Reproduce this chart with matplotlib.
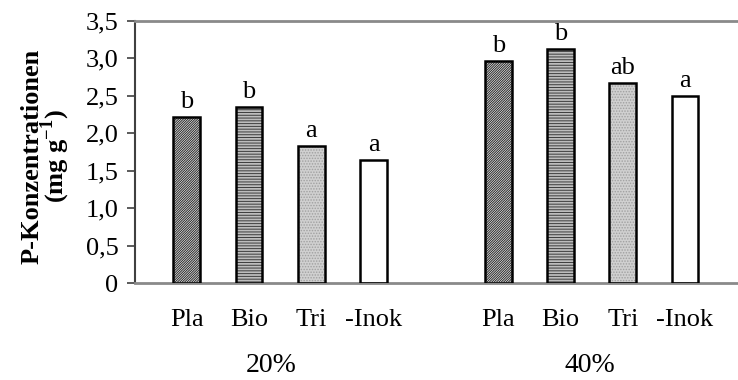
import matplotlib
matplotlib.use("Agg")
import matplotlib.pyplot as plt

# Data: P concentration by inoculation treatment at two substrate levels
levels = ["20%", "40%"]
treatments = ["Pla", "Bio", "Tri", "-Inok"]
p_20 = [2.22, 2.35, 1.83, 1.64]
p_40 = [2.96, 3.12, 2.67, 2.50]
letters_20 = ["b", "b", "a", "a"]
letters_40 = ["b", "b", "ab", "a"]
y_ticks = [0, 0.5, 1.0, 1.5, 2.0, 2.5, 3.0, 3.5]
y_tick_labels = ["0", "0,5", "1,0", "1,5", "2,0", "2,5", "3,0", "3,5"]

# Layout (slot positions on the x axis)
bar_slots = [[0, 1, 2, 3], [5, 6, 7, 8]]
level_slots = [1.36, 6.48]

plt.rcParams["font.family"] = ["Liberation Serif", "DejaVu Serif"]
plt.rcParams["mathtext.fontset"] = "custom"
plt.rcParams["mathtext.rm"] = "Liberation Serif"
plt.rcParams["mathtext.bf"] = "Liberation Serif:bold"
plt.rcParams["hatch.linewidth"] = 0.7

styles = [
    dict(face="#f0f0f0", hatch="//////////////", hcolor="#262626"),
    dict(face="#bdbdbd", hatch="------", hcolor="#3c3c3c"),
    dict(face="#d0d0d0", hatch="......", hcolor="#a0a0a0"),
    dict(face="white", hatch=None, hcolor="white"),
]

FS = 19

fig = plt.figure(figsize=(7.38, 3.80), dpi=100)
ax = fig.add_axes([135 / 738, 97 / 380, 603 / 738, 262 / 380])

width = 0.43
for values, letters, slots in zip([p_20, p_40], [letters_20, letters_40], bar_slots):
    for i, (v, lab, xs) in enumerate(zip(values, letters, slots)):
        st = styles[i]
        # hatched fill
        ax.bar(xs, v, width=width, color=st["face"], edgecolor=st["hcolor"],
               hatch=st["hatch"], linewidth=0, zorder=2)
        # outline
        ax.bar(xs, v, width=width, fill=False, edgecolor="black",
               linewidth=1.8, zorder=3)
        ax.annotate(lab, (xs, v), xytext=(0, 3), textcoords="offset points",
                    ha="center", va="bottom", fontsize=FS)

ax.set_xlim(-0.83, 8.85)
ax.set_ylim(0, 3.5)
ax.set_yticks(y_ticks)
ax.set_yticklabels(y_tick_labels, fontsize=FS)
ax.tick_params(axis="y", direction="out", length=6, width=1.2,
               color="#404040", pad=6)

ax.set_xticks(bar_slots[0] + bar_slots[1])
ax.set_xticklabels(treatments * 2, fontsize=FS)
ax.tick_params(axis="x", length=0, pad=19)

for lvl, xs in zip(levels, level_slots):
    ax.text(xs, -0.315, lvl, transform=ax.get_xaxis_transform(),
            ha="center", va="center", fontsize=FS + 1)

ax.spines["right"].set_visible(False)
ax.spines["top"].set_color("#8a8a8a")
ax.spines["top"].set_linewidth(2)
ax.spines["bottom"].set_color("#8a8a8a")
ax.spines["bottom"].set_linewidth(2)
ax.spines["left"].set_color("#404040")
ax.spines["left"].set_linewidth(1.5)

fig.text(46 / 738, 1 - 156 / 380,
         "P-Konzentrationen\n" + r"(mg g$^{\mathbf{-1}}$)",
         rotation=90, ha="center", va="center", multialignment="center",
         fontsize=FS, fontweight="bold", linespacing=0.8)

fig.savefig("out.png", dpi=100)
